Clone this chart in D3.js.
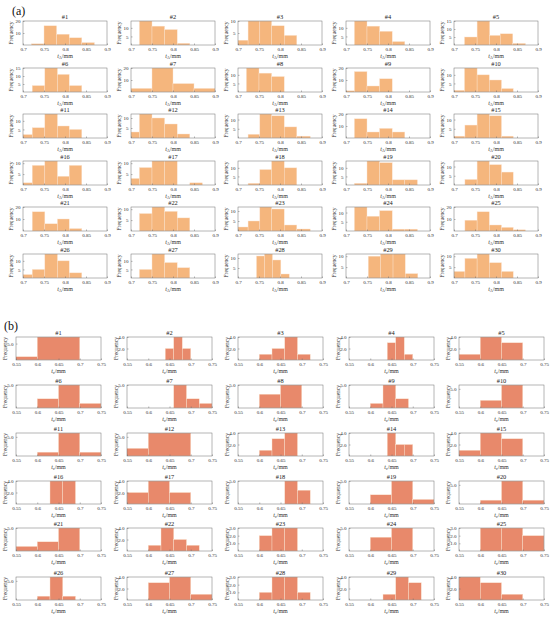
<!DOCTYPE html>
<html>
<head>
<meta charset="utf-8">
<script src="https://cdn.jsdelivr.net/npm/d3@7"></script>
<style>
  body { margin: 0; background: #fff; }
  svg, svg text { font-family: "Liberation Serif", "DejaVu Serif", serif; }
  .axis path, .axis line { stroke: #6e6e6e; stroke-width: 0.5; }
  .axis text { fill: #2a2a2a; font-size: 5px; }
</style>
</head>
<body>
<svg width="550" height="618"></svg>
<script>
// ---- (a) t_A histograms : bin edges / counts per panel ----
const xTicksA = [0.7, 0.75, 0.8, 0.85, 0.9];
const edgesA = [
  [0.72,0.75,0.78,0.81,0.84,0.87], [0.72,0.75,0.78,0.81,0.84], [0.7,0.724,0.752,0.78,0.81,0.84],
  [0.72,0.75,0.78,0.81,0.84], [0.725,0.755,0.785,0.81,0.84,0.87],
  [0.722,0.752,0.782,0.81,0.84], [0.7,0.75,0.8,0.85,0.9], [0.72,0.75,0.78,0.81],
  [0.7,0.72,0.75,0.78,0.81], [0.7,0.725,0.755,0.784,0.813,0.841],
  [0.7,0.722,0.752,0.782,0.81,0.84], [0.7,0.72,0.75,0.78,0.81,0.84], [0.724,0.752,0.78,0.81,0.84,0.872],
  [0.72,0.75,0.78,0.81,0.84], [0.7,0.726,0.755,0.784,0.813,0.841],
  [0.7,0.722,0.752,0.782,0.81,0.84], [0.7,0.72,0.75,0.78,0.81,0.84,0.87], [0.724,0.752,0.78,0.81,0.84],
  [0.72,0.75,0.78,0.81,0.84,0.87], [0.726,0.755,0.784,0.813,0.841],
  [0.722,0.752,0.782,0.81,0.84], [0.72,0.75,0.78,0.81,0.84], [0.7,0.724,0.752,0.78,0.81,0.84,0.872],
  [0.72,0.75,0.78,0.81,0.84,0.87], [0.726,0.755,0.784,0.813,0.841,0.87],
  [0.7,0.722,0.752,0.782,0.81,0.84], [0.72,0.75,0.78,0.81,0.84], [0.744,0.763,0.782,0.802,0.822],
  [0.753,0.782,0.812,0.841,0.871], [0.7,0.726,0.755,0.784,0.813,0.841]
];
const countsA = [
  [1,16,9,6,2], [14,11,9,1], [2,10,10,8,4], [14,11,8,2], [5,15,6,7,1],
  [4,15,11,4], [3,20,7,3], [14,11,9], [1,17,5,11], [1,14,10,7,2],
  [2,6,14,7,5], [3,12,10,7,2], [2,13,12,6,1], [16,5,8,5], [1,7,13,12,1],
  [1,9,11,4,9], [3,8,11,11,0,1], [1,9,14,10], [1,14,13,3,3], [3,13,11,7],
  [16,6,10,2], [8,11,9,6], [2,5,12,11,3,1], [13,8,11,1,1], [9,16,5,3,1],
  [2,5,14,10,3], [5,14,9,6], [11,12,9,2], [10,11,11,2], [3,9,11,7,3]
];
const yMaxA  = [20,14,10,14,15, 15,20,14,20,14, 14,12,13,20,13, 11,11,14,14,13, 20,11,12,13,20, 14,14,12,11,11];
const yStepA = [10,5,5,5,5, 5,10,5,10,5, 5,5,5,10,5, 5,5,5,5,5, 10,5,5,5,10, 5,5,5,5,5];

// ---- (b) t_c histograms ----
const xTicksB = [0.55, 0.6, 0.65, 0.7, 0.75];
const edgesB = [
  [0.5,0.6,0.7], [0.64,0.66,0.68,0.7], [0.6,0.63,0.66,0.69,0.72], [0.64,0.66,0.68,0.7], [0.55,0.6,0.65,0.7],
  [0.6,0.65,0.7,0.75], [0.66,0.69,0.72,0.75], [0.6,0.65,0.7], [0.6,0.63,0.66,0.69], [0.6,0.65,0.7],
  [0.6,0.65,0.7,0.75], [0.5,0.6,0.7], [0.6,0.63,0.66,0.69], [0.64,0.66,0.68,0.7], [0.55,0.6,0.65,0.7],
  [0.63,0.66,0.69], [0.55,0.6,0.65,0.7], [0.66,0.69,0.72], [0.6,0.65,0.7,0.75], [0.6,0.65,0.7,0.75],
  [0.55,0.6,0.65,0.7], [0.6,0.63,0.66,0.69,0.72], [0.6,0.63,0.66,0.69], [0.6,0.65,0.7], [0.6,0.65,0.7,0.75],
  [0.6,0.63,0.66,0.69], [0.6,0.65,0.7,0.75], [0.6,0.63,0.66,0.69,0.72], [0.63,0.66,0.69,0.72], [0.55,0.6,0.65,0.7]
];
const countsB = [
  [1,7], [2,4,2], [1,2,4,1], [3,4,1], [1,4,3],
  [2,5,1], [5,2,1], [3,5], [1,5,2], [2,6],
  [1,6,1], [2,6], [1,3,4], [4,2,2], [1,4,3],
  [4,4], [2,4,2], [5,3], [2,5,1], [1,6,1],
  [1,2,5], [1,4,2,1], [2,3,3], [3,5], [3,3,2],
  [1,6,1], [3,4,1], [1,3,3,1], [1,4,3], [4,3,1]
];
const yMaxB  = [7,4,4,4,4, 5,5,5,5,6, 6,6,4,4,4, 4,4,5,5,6, 5,4,3,5,3, 6,4,3,4,4];
const yStepB = [5,2,2,2,2, 5,5,5,5,5, 5,5,2,2,2, 2,2,5,5,5, 5,2,1,5,1, 5,2,1,2,2];

const FONT = "Liberation Serif, DejaVu Serif, serif";

const vis = {

    sels : { svg : null },

    params : {
        a : {
            cols : [23, 131, 238, 346, 454], rows : [21, 68, 114, 161, 207, 254],
            w : 84, h : 24, domain : [0.7, 0.9], ticks : xTicksA, ylab : -10,
            fill : "#f5b67d", sub : "A", tag : "(a)", tagX : 12, tagY : 15
        },
        b : {
            cols : [16, 127, 238, 349, 459], rows : [337, 385, 433, 481, 528, 577],
            w : 85, h : 23, domain : [0.55, 0.75], ticks : xTicksB, ylab : -9,
            fill : "#e8896b", sub : "c", tag : "(b)", tagX : 4, tagY : 330
        }
    },

    render : {

        panel : function(cfg, key, i, edges, counts, ymax, ystep) {

            const left = cfg.cols[i % 5], top = cfg.rows[Math.floor(i / 5)];
            const g = vis.sels.svg.append("g").attr("transform", `translate(${left},${top})`);

            const x = d3.scaleLinear().domain(cfg.domain).range([0, cfg.w]);
            const y = d3.scaleLinear().domain([0, ymax]).range([cfg.h, 0]);

            const clipId = `clip-${key}-${i}`;
            g.append("clipPath").attr("id", clipId)
              .append("rect").attr("width", cfg.w).attr("height", cfg.h);

            const bins = counts.map((c, k) => ({ x0 : edges[k], x1 : edges[k + 1], c : c }));

            g.append("g").attr("clip-path", `url(#${clipId})`)
              .selectAll("rect")
              .data(bins.filter(d => d.c > 0))
              .join("rect")
              .attr("x", d => x(d.x0))
              .attr("width", d => x(d.x1) - x(d.x0))
              .attr("y", d => y(d.c))
              .attr("height", d => y(0) - y(d.c))
              .attr("fill", cfg.fill)
              .attr("stroke", "#fbe3cf")
              .attr("stroke-width", 0.4);

            // frame
            g.append("rect").attr("width", cfg.w).attr("height", cfg.h)
              .attr("fill", "none").attr("stroke", "#6e6e6e").attr("stroke-width", 0.5);

            g.append("g").attr("class", "axis")
              .attr("transform", `translate(0,${cfg.h})`)
              .call(d3.axisBottom(x).tickValues(cfg.ticks).tickSize(-1.5).tickSizeOuter(0)
                    .tickPadding(2.5).tickFormat(d => String(d)))
              .call(s => s.select(".domain").remove())
              .attr("font-family", FONT).attr("font-size", 5);

            g.append("g").attr("class", "axis")
              .call(d3.axisLeft(y).tickValues(d3.range(ystep, ymax + 1e-9, ystep))
                    .tickSize(-1.5).tickSizeOuter(0).tickPadding(2.5))
              .call(s => s.select(".domain").remove())
              .attr("font-family", FONT).attr("font-size", 5);

            g.append("text")
              .attr("x", cfg.w / 2).attr("y", -2)
              .attr("text-anchor", "middle").attr("font-size", 6.4).attr("fill", "#222")
              .attr("font-family", FONT)
              .text("#" + (i + 1));

            g.append("text")
              .attr("transform", `translate(${cfg.ylab},${cfg.h / 2}) rotate(-90)`)
              .attr("text-anchor", "middle").attr("font-size", 5.4).attr("fill", "#333")
              .attr("font-family", FONT)
              .text("Frequency");

            const xl = g.append("text")
              .attr("x", cfg.w / 2).attr("y", cfg.h + 13)
              .attr("text-anchor", "middle").attr("font-size", 6).attr("fill", "#333")
              .attr("font-family", FONT);
            xl.append("tspan").attr("font-style", "italic").text("t");
            xl.append("tspan").attr("font-size", 4.2).attr("dy", 1.2).text(cfg.sub);
            xl.append("tspan").attr("dy", -1.2).text("/mm");

        },

        group : function(key, edges, counts, ymaxs, ysteps) {

            const cfg = vis.params[key];

            vis.sels.svg.append("text")
              .attr("x", cfg.tagX).attr("y", cfg.tagY)
              .attr("font-size", 12).attr("fill", "#111")
              .attr("font-family", FONT)
              .text(cfg.tag);

            counts.forEach((c, i) => {
                vis.render.panel(cfg, key, i, edges[i], c, ymaxs[i], ysteps[i]);
            });

        }

    },

    control : {

        init : function() {

            vis.sels.svg = d3.select("svg");
            vis.render.group("a", edgesA, countsA, yMaxA, yStepA);
            vis.render.group("b", edgesB, countsB, yMaxB, yStepB);

        }

    }

};

vis.control.init();
</script>
</body>
</html>
